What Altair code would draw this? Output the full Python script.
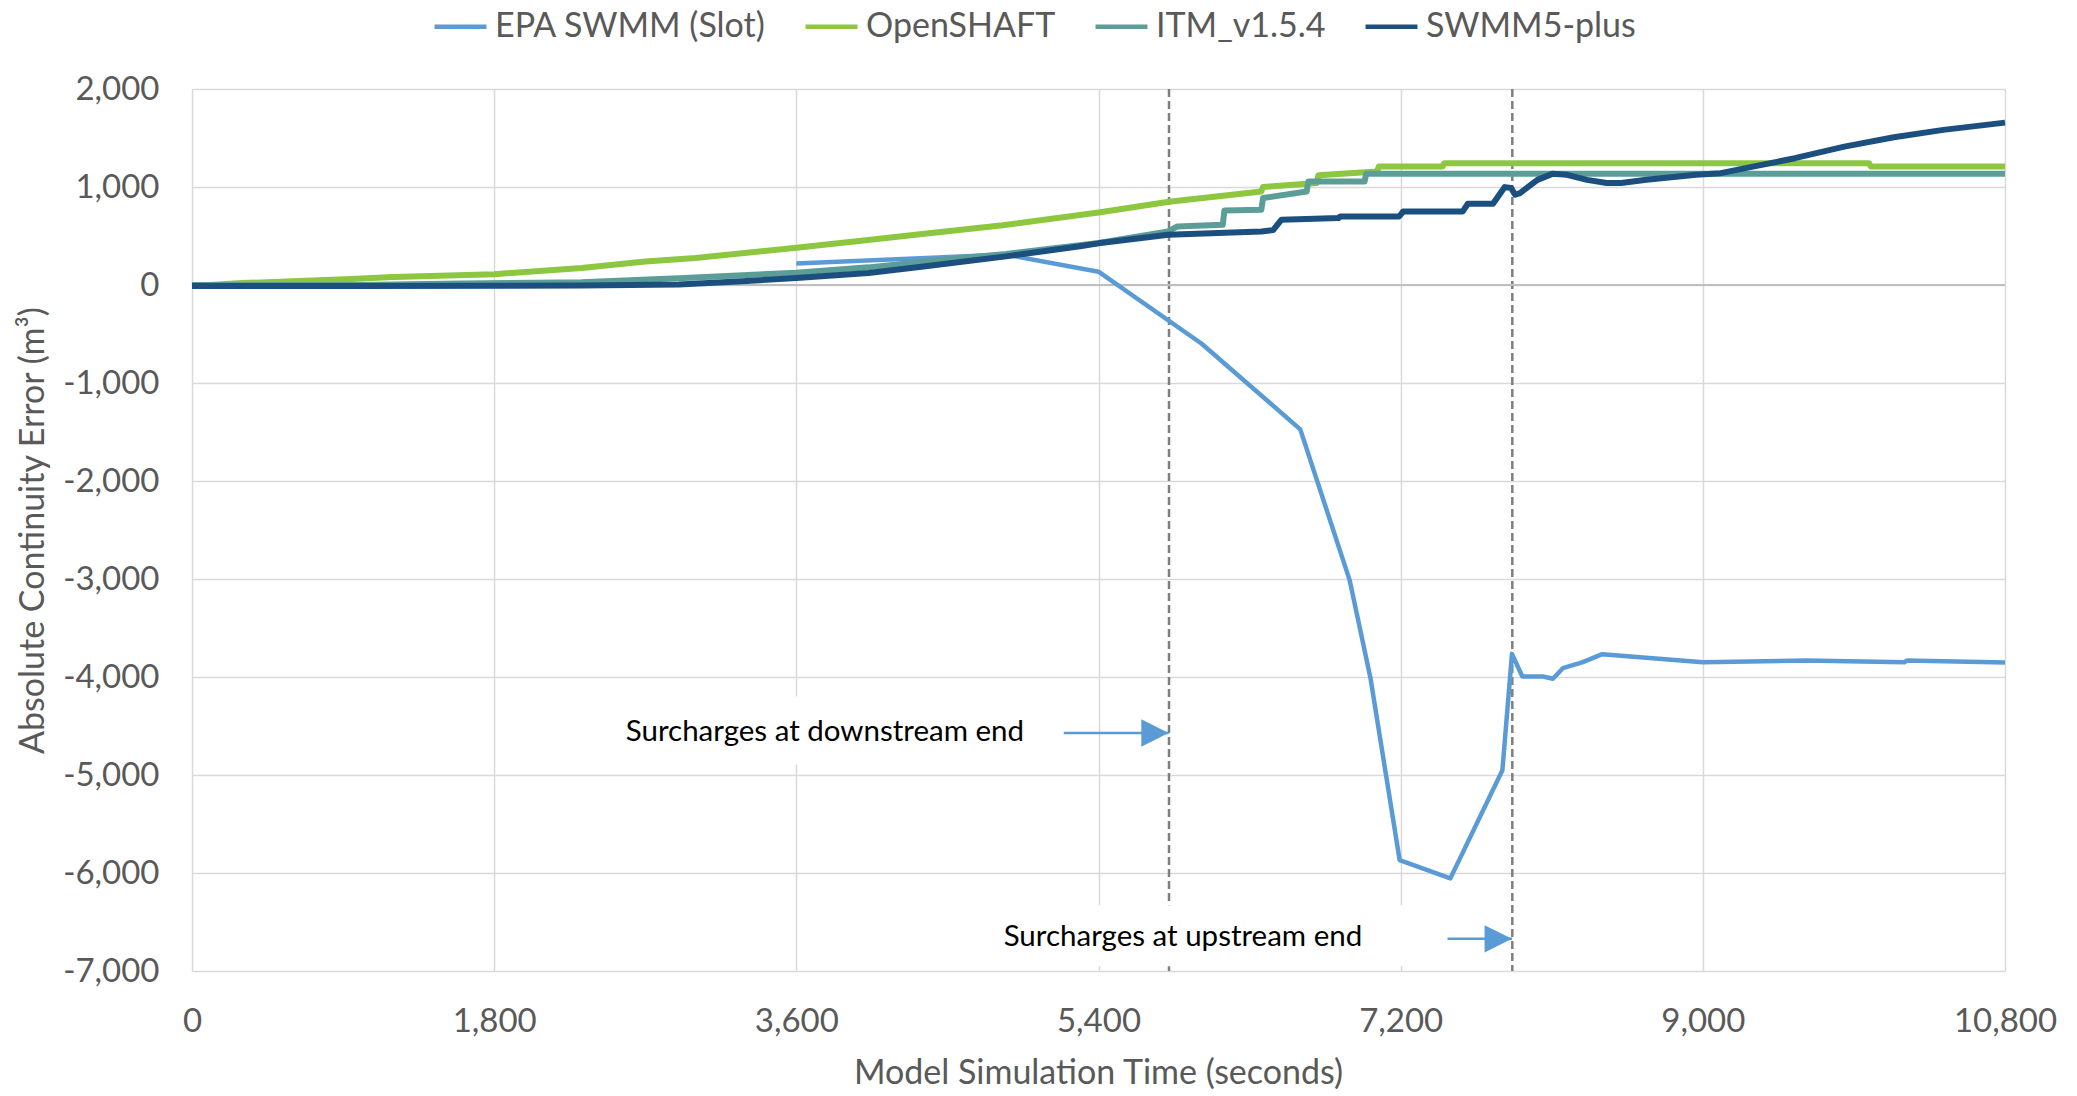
import altair as alt
import pandas as pd

# ---- series -------------------------------------------------------------
SERIES = ["EPA SWMM (Slot)", "OpenSHAFT", "ITM_v1.5.4", "SWMM5-plus"]
COLORS = ["#5B9BD5", "#8DC63F", "#5A9E97", "#1B4F7F"]
WIDTHS = [4.5, 6, 6, 6]

EPA_T = [3600, 4850, 5400, 6013, 6602, 6897, 7020, 7194, 7496, 7806, 7863,
         7925, 8048, 8107, 8166, 8285, 8401, 9000, 9612, 10200, 10217, 10800]
EPA_V = [220, 310, 136, -597, -1473, -3017, -4010, -5868, -6055, -4952, -3764,
         -3995, -3995, -4018, -3910, -3849, -3767, -3849, -3832, -3849, -3832, -3852]

OPEN_T = [0, 300, 600, 950, 1200, 1800, 2320, 2700, 3000, 3600, 4000, 4350,
          4830, 5400, 5820, 6370, 6380, 6700, 6710, 7060, 7070, 7450, 7460,
          9990, 10000, 10800]
OPEN_V = [-10, 20, 38, 62, 82, 110, 174, 240, 275, 380, 455, 520,
          610, 740, 850, 955, 1000, 1040, 1120, 1158, 1209, 1209, 1243,
          1243, 1209, 1209]

ITM_T = [0, 1000, 1600, 2320, 2900, 3280, 3600, 4030, 4370, 4850, 5400, 5815,
         5870, 6140, 6150, 6370, 6380, 6640, 6650, 6985, 6995, 10800]
ITM_V = [0, 0, 15, 27, 70, 100, 125, 180, 241, 316, 429, 547,
         598, 614, 761, 767, 887, 954, 1056, 1056, 1134, 1134]

PLUS_T = [0, 1000, 2320, 2900, 3280, 3600, 4030, 4370, 4850, 5290, 5400, 5815,
          6370, 6440, 6490, 6830, 6840, 7190, 7200, 7215, 7570, 7600, 7750,
          7820, 7858, 7882, 7911, 8015, 8103, 8191, 8310, 8428, 8513, 8664,
          8959, 9107, 9254, 9548, 9843, 10138, 10433, 10800]
PLUS_V = [-10, -10, -5, 5, 38, 72, 123, 191, 292, 395, 425, 513,
          547, 560, 666, 683, 700, 700, 717, 751, 751, 829, 829,
          999, 989, 921, 938, 1073, 1134, 1124, 1073, 1040, 1040, 1073,
          1124, 1141, 1192, 1294, 1412, 1508, 1583, 1657]

# ---- axes ---------------------------------------------------------------
X_TICKS = [0, 1800, 3600, 5400, 7200, 9000, 10800]
Y_TICKS = [-7000, -6000, -5000, -4000, -3000, -2000, -1000, 0, 1000, 2000]

# ---- annotations --------------------------------------------------------
EVENT_T = [5820, 7865]                      # surcharge onset markers
NOTE_TEXT = ["Surcharges at downstream end", "Surcharges at upstream end"]
NOTE_T = [2584, 4835]
NOTE_V = [-4560, -6650]
BOX_T0 = [2447, 4602]
BOX_T1 = [5109, 7265]
BOX_V0 = [-4202, -6330]
BOX_V1 = [-4895, -6951]
ARROW_T0 = [5193, 7479]
ARROW_T1 = [5818, 7863]
ARROW_V = [-4572, -6672]

FONT = "Lato"
GREY = "#595959"

rows = []
for name, w, ts, vs in zip(SERIES, WIDTHS, [EPA_T, OPEN_T, ITM_T, PLUS_T],
                           [EPA_V, OPEN_V, ITM_V, PLUS_V]):
    for i, (t, v) in enumerate(zip(ts, vs)):
        rows.append({"series": name, "w": w, "t": t, "v": v, "i": i})
lines_df = pd.DataFrame(rows)

notes_df = pd.DataFrame({
    "text": NOTE_TEXT, "t": NOTE_T, "v": NOTE_V,
    "bt0": BOX_T0, "bt1": BOX_T1, "bv0": BOX_V0, "bv1": BOX_V1,
    "at0": ARROW_T0, "at1": ARROW_T1, "av": ARROW_V,
})
events_df = pd.DataFrame({"t": EVENT_T})
zero_df = pd.DataFrame({"v": [0]})

xs = alt.Scale(domain=[0, 10800], nice=False, zero=False)
ys = alt.Scale(domain=[-7000, 2000], nice=False, zero=False)

label_expr = "replace(format(datum.value, ','), '\u2212', '-')"
x_axis = alt.Axis(values=X_TICKS, grid=True, ticks=False, domain=False,
                  labelExpr=label_expr, labelFlush=False,
                  labelPadding=50, labelBaseline="middle",
                  title="Model Simulation Time (seconds)",
                  titleX=906, titleY=102, titleBaseline="middle", titleAlign="center")
y_axis = alt.Axis(values=Y_TICKS, grid=True, ticks=False, domain=False,
                  labelExpr=label_expr, labelFlush=False,
                  labelPadding=33,
                  title="Absolute Continuity Error (m\u00b3)",
                  titleX=-159, titleY=441, titleAngle=270,
                  titleBaseline="middle", titleAlign="center")

events = alt.Chart(events_df).mark_rule(
    color="#7F7F7F", strokeWidth=2.5, strokeDash=[8, 4]
).encode(x=alt.X("t:Q", scale=xs, axis=x_axis))

zero_line = alt.Chart(zero_df).mark_rule(color="#BFBFBF", strokeWidth=2).encode(
    y=alt.Y("v:Q", scale=ys, axis=y_axis)
)

boxes = alt.Chart(notes_df).mark_rect(color="white").encode(
    x=alt.X("bt0:Q", scale=xs), x2="bt1:Q",
    y=alt.Y("bv0:Q", scale=ys), y2="bv1:Q",
)

lines = alt.Chart(lines_df).mark_line(strokeJoin="round").encode(
    x=alt.X("t:Q", scale=xs),
    y=alt.Y("v:Q", scale=ys),
    color=alt.Color("series:N", scale=alt.Scale(domain=SERIES, range=COLORS),
                    sort=SERIES,
                    legend=alt.Legend(title=None, orient="none", direction="horizontal",
                                      legendX=240, legendY=-91,
                                      symbolType="stroke", symbolStrokeWidth=4.5,
                                      symbolSize=2700, labelOffset=6,
                                      columnPadding=30, padding=0, labelLimit=0)),
    strokeWidth=alt.StrokeWidth("w:Q", scale=None, legend=None),
    order="i:Q",
)

shafts = alt.Chart(notes_df).mark_rule(color="#5B9BD5", strokeWidth=2.5).encode(
    x=alt.X("at0:Q", scale=xs), x2="at1:Q", y=alt.Y("av:Q", scale=ys)
)
heads = alt.Chart(notes_df).mark_point(
    shape="M-1,-0.5L0,0L-1,0.5Z", filled=True, size=3000, color="#5B9BD5", opacity=1
).encode(x=alt.X("at1:Q", scale=xs), y=alt.Y("av:Q", scale=ys))

labels = alt.Chart(notes_df).mark_text(
    align="left", baseline="middle", font=FONT, fontSize=29.5, color="black"
).encode(x=alt.X("t:Q", scale=xs), y=alt.Y("v:Q", scale=ys), text="text:N")

chart = alt.layer(events, zero_line, boxes, lines, shafts, heads, labels).properties(
    width=1813, height=882,
    autosize=alt.AutoSizeParams(type="none"),
    padding={"left": 192, "top": 89, "right": 72, "bottom": 125},
    background="white",
).configure_view(stroke=None).configure_axis(
    gridColor="#D9D9D9", gridWidth=1.5,
    labelFont=FONT, labelFontSize=33, labelColor=GREY,
    titleFont=FONT, titleFontSize=34, titleColor=GREY, titleFontWeight="normal",
).configure_legend(
    labelFont=FONT, labelFontSize=34, labelColor=GREY,
)

chart.save("out.html", embed_options={"renderer": "svg", "actions": False})
